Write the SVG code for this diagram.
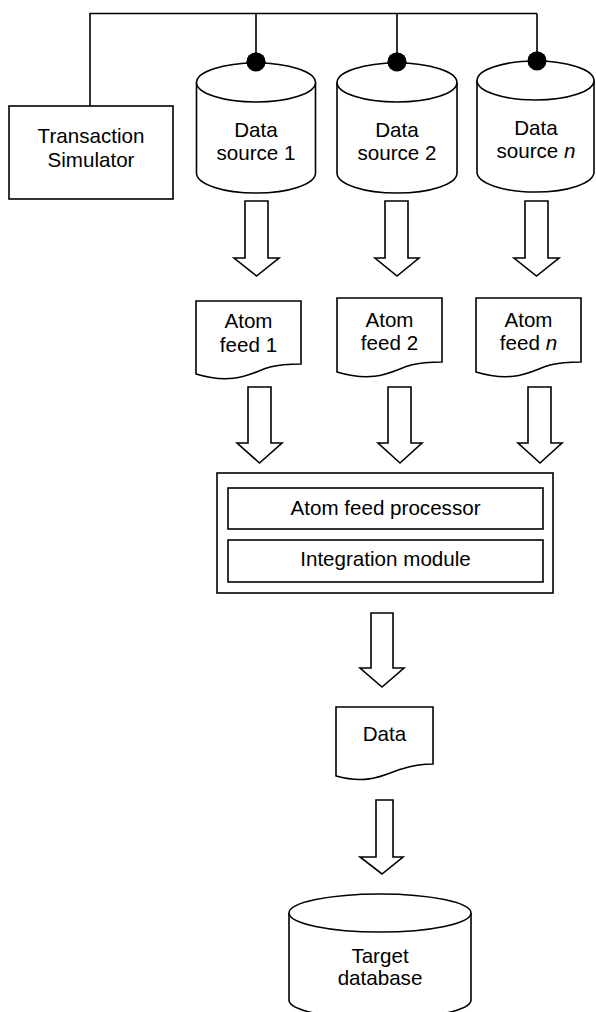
<svg xmlns="http://www.w3.org/2000/svg" width="596" height="1012" viewBox="0 0 596 1012">
<style>
.s{fill:#fff;stroke:#000;stroke-width:1.6;stroke-linejoin:miter}
.ln{fill:none;stroke:#000;stroke-width:1.6}
.t{font-family:"Liberation Sans",Arial,sans-serif;font-size:20.6px;fill:#000;text-anchor:middle}
</style>
<rect width="596" height="1012" fill="#fff"/>
<g id="connectors">
<path class="ln" d="M90 106 V13.5 H256" stroke-width="3"/>
<path class="ln" d="M256 13.5 H537 M256 13.5 V62 M397 13.5 V62 M537 13.5 V61"/>
<circle cx="256" cy="62" r="9.5" fill="#000"/>
<circle cx="397" cy="62" r="9.5" fill="#000"/>
<circle cx="537" cy="61" r="9.5" fill="#000"/>
<path class="s" d="M245 201 H268 V258 H279 L256.5 276 L234 258 H245 Z"/>
<path class="s" d="M385 201 H408 V258 H419 L397 276 L375 258 H385 Z"/>
<path class="s" d="M525 201 H548 V258 H559 L536.5 276 L514 258 H525 Z"/>
<path class="s" d="M248 387 H271 V443 H282 L259.5 463 L237 443 H248 Z"/>
<path class="s" d="M388 387 H411 V443 H422 L400 463 L378 443 H388 Z"/>
<path class="s" d="M528 387 H551 V443 H562 L540 463 L518 443 H528 Z"/>
<path class="s" d="M371 613 H393 V668 H404 L382 687 L360 668 H371 Z"/>
<path class="s" d="M376 800 H393 V857 H403 L382 874 L360 857 H376 Z"/>
</g>
<g id="sim">
<rect class="s" x="9" y="106" width="164" height="93"/>
<text class="t" x="91" y="143">Transaction</text>
<text class="t" x="91" y="167">Simulator</text>
</g>
<g id="ds1">
<path class="s" d="M196.5 82.5 V173 A59.5 20 0 0 0 315.5 173 V82.5"/>
<ellipse class="s" cx="256" cy="82.5" rx="59.5" ry="19.5"/>
<circle cx="256" cy="62" r="9.5" fill="#000"/>
<text class="t" x="256" y="137">Data</text>
<text class="t" x="256" y="160">source 1</text>
</g>
<g id="ds2">
<path class="s" d="M337 82.5 V173 A60 20 0 0 0 457 173 V82.5"/>
<ellipse class="s" cx="397" cy="82.5" rx="60" ry="19.5"/>
<circle cx="397" cy="62" r="9.5" fill="#000"/>
<text class="t" x="397" y="137">Data</text>
<text class="t" x="397" y="160">source 2</text>
</g>
<g id="dsn">
<path class="s" d="M477 80.5 V172 A58.5 20 0 0 0 594 172 V80.5"/>
<ellipse class="s" cx="535.5" cy="80.5" rx="58.5" ry="19.5"/>
<circle cx="537" cy="61" r="9.5" fill="#000"/>
<text class="t" x="536" y="135">Data</text>
<text class="t" x="536" y="158">source <tspan font-style="italic">n</tspan></text>
</g>
<g id="feed1">
<path class="s" d="M196 301 H301 V364 C290 364 282 364 270 367 C252 372 236 386 196 374 Z"/>
<text class="t" x="248.5" y="328">Atom</text>
<text class="t" x="248.5" y="352">feed 1</text>
</g>
<g id="feed2">
<path class="s" d="M337 298 H442 V362 C431 362 423 362 411 365 C393 370 377 384 337 372 Z"/>
<text class="t" x="389.5" y="327">Atom</text>
<text class="t" x="389.5" y="350">feed 2</text>
</g>
<g id="feedn">
<path class="s" d="M476 298 H581 V362 C570 362 562 362 550 365 C532 370 516 384 476 372 Z"/>
<text class="t" x="528.5" y="327">Atom</text>
<text class="t" x="528.5" y="350">feed <tspan font-style="italic">n</tspan></text>
</g>
<g id="processor">
<rect class="s" x="217" y="473" width="336" height="120"/>
<rect class="s" x="228" y="488" width="315" height="41"/>
<rect class="s" x="228" y="540" width="315" height="42"/>
<text class="t" x="385.5" y="515">Atom feed processor</text>
<text class="t" x="385.5" y="566">Integration module</text>
</g>
<g id="data">
<path class="s" d="M336 707 H433 V764 C423 764 415 765 405 768 C388 772 372 786 336 776 Z"/>
<text class="t" x="384.5" y="741">Data</text>
</g>
<g id="target">
<path class="s" d="M289 913 V1000 A91 19 0 0 0 471 1000 V913"/>
<ellipse class="s" cx="380" cy="913" rx="91" ry="19"/>
<text class="t" x="380" y="963">Target</text>
<text class="t" x="380" y="985">database</text>
</g>
</svg>
